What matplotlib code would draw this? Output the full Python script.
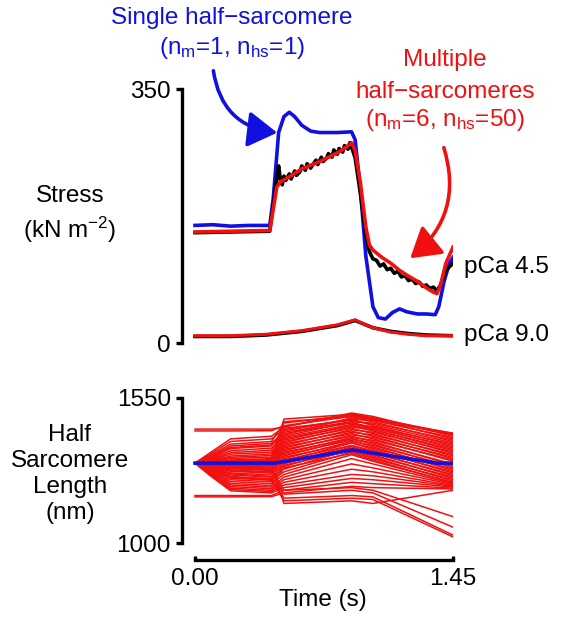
import matplotlib
matplotlib.use('Agg')
import matplotlib.pyplot as plt

plt.rcParams['font.family'] = ['Liberation Sans', 'DejaVu Sans']
plt.rcParams['mathtext.fontset'] = 'custom'
plt.rcParams['mathtext.rm'] = 'Liberation Sans'
plt.rcParams['mathtext.it'] = 'Liberation Sans:italic'

# Stress traces, pCa 4.5
t_blue = [0, 0.1, 0.2, 0.3, 0.42, 0.44, 0.47, 0.50, 0.53, 0.56, 0.60, 0.65, 0.70, 0.80, 0.88,
          0.90, 0.93, 0.96, 1.00, 1.03, 1.07, 1.11, 1.15, 1.19, 1.25, 1.30, 1.35, 1.37, 1.40, 1.43, 1.45]
s_blue = [162, 163, 161, 162, 162, 200, 290, 312, 318, 312, 300, 292, 290, 290, 291,
          280, 210, 120, 50, 35, 33, 42, 47, 43, 40, 40, 39, 50, 85, 110, 118]

t_red = [0, 0.2, 0.42, 0.44, 0.46, 0.48, 0.5, 0.55, 0.6, 0.65, 0.7, 0.75, 0.8, 0.85, 0.88,
         0.9, 0.93, 0.96, 0.98, 1.0, 1.05, 1.1, 1.15, 1.2, 1.25, 1.3, 1.34, 1.36, 1.38, 1.41, 1.45]
s_red = [153, 154, 155, 185, 215, 222, 225, 232, 240, 245, 250, 256, 262, 270, 276,
         265, 220, 160, 135, 128, 118, 110, 100, 92, 85, 76, 70, 68, 80, 110, 132]

t_black = [0, 0.2, 0.42, 0.44, 0.46, 0.47, 0.48, 0.49, 0.50,
           0.51, 0.53, 0.54, 0.56, 0.57, 0.59, 0.60, 0.62, 0.63, 0.65, 0.66, 0.68, 0.69,
           0.71, 0.72, 0.74, 0.75, 0.77, 0.78, 0.80, 0.81, 0.83, 0.84, 0.86, 0.87, 0.88,
           0.90, 0.93, 0.96, 0.98, 1.00,
           1.02, 1.04, 1.06, 1.08, 1.10, 1.12, 1.14, 1.16, 1.18, 1.20, 1.22, 1.24,
           1.26, 1.28, 1.30, 1.32, 1.34, 1.36, 1.38, 1.41, 1.45]
s_black = [152, 153, 154, 190, 228, 244, 225, 218, 230,
           224, 233, 226, 237, 231, 236, 244, 238, 247, 241, 245, 252, 246,
           256, 250, 255, 261, 256, 266, 260, 268, 263, 272, 267, 276, 270,
           255, 205, 150, 126, 116,
           114, 106, 109, 101, 103, 96, 99, 91, 93, 86, 88, 82,
           84, 78, 80, 75, 77, 72, 80, 100, 110]

# Stress traces, pCa 9.0
t_relax = [0, 0.2, 0.4, 0.6, 0.8, 0.9, 0.95, 1.0, 1.1, 1.2, 1.3, 1.45]
s_relax_red = [10, 10, 12, 17, 25, 32, 26, 21, 15, 12, 10, 10]
s_relax_black = [9, 9, 11, 16, 24, 31, 26, 21, 16, 13, 11, 10]

# Half-sarcomere lengths
t_hsl_blue = [0, 0.45, 0.885, 1.36, 1.45]
hsl_blue = [1303, 1303, 1353, 1303, 1303]

t_hsl = [0, 0.08, 0.2, 0.43, 0.5, 0.88, 1.0, 1.45]
hsl_red = [
    [1432, 1432, 1432, 1432, 1440, 1490, 1475, 1415],
    [1425, 1425, 1425, 1426, 1445, 1480, 1470, 1410],
    [1303, 1340, 1395, 1405, 1440, 1493, 1480, 1405],
    [1303, 1335, 1385, 1395, 1430, 1470, 1465, 1400],
    [1303, 1330, 1375, 1385, 1455, 1485, 1470, 1395],
    [1303, 1326, 1368, 1378, 1420, 1460, 1455, 1390],
    [1303, 1323, 1362, 1372, 1410, 1475, 1460, 1385],
    [1303, 1320, 1358, 1368, 1435, 1465, 1450, 1380],
    [1303, 1317, 1350, 1360, 1400, 1450, 1440, 1375],
    [1303, 1314, 1343, 1352, 1425, 1470, 1445, 1370],
    [1303, 1312, 1337, 1345, 1390, 1445, 1435, 1365],
    [1303, 1310, 1330, 1338, 1415, 1455, 1440, 1360],
    [1303, 1308, 1325, 1332, 1380, 1440, 1430, 1355],
    [1303, 1307, 1320, 1326, 1405, 1460, 1430, 1350],
    [1303, 1306, 1315, 1320, 1370, 1430, 1420, 1345],
    [1303, 1305, 1311, 1315, 1395, 1445, 1425, 1340],
    [1303, 1304, 1308, 1312, 1360, 1420, 1410, 1335],
    [1303, 1303, 1306, 1308, 1385, 1435, 1415, 1330],
    [1303, 1303, 1305, 1306, 1350, 1410, 1400, 1325],
    [1303, 1303, 1304, 1304, 1375, 1425, 1405, 1320],
    [1303, 1303, 1303, 1302, 1340, 1400, 1390, 1315],
    [1303, 1303, 1301, 1300, 1365, 1415, 1395, 1310],
    [1303, 1302, 1300, 1298, 1330, 1395, 1380, 1300],
    [1303, 1302, 1298, 1296, 1355, 1405, 1385, 1295],
    [1303, 1301, 1295, 1292, 1320, 1385, 1370, 1290],
    [1303, 1300, 1292, 1288, 1345, 1395, 1375, 1285],
    [1303, 1299, 1289, 1284, 1310, 1380, 1360, 1280],
    [1303, 1298, 1286, 1280, 1335, 1390, 1365, 1275],
    [1303, 1296, 1282, 1275, 1300, 1370, 1350, 1270],
    [1303, 1294, 1277, 1270, 1325, 1380, 1355, 1265],
    [1303, 1292, 1272, 1265, 1290, 1365, 1340, 1260],
    [1303, 1290, 1266, 1258, 1315, 1370, 1345, 1255],
    [1303, 1288, 1258, 1250, 1280, 1355, 1330, 1250],
    [1303, 1286, 1252, 1244, 1305, 1360, 1335, 1245],
    [1303, 1284, 1246, 1238, 1270, 1345, 1320, 1240],
    [1303, 1282, 1240, 1232, 1295, 1350, 1325, 1235],
    [1303, 1279, 1233, 1225, 1260, 1335, 1310, 1230],
    [1303, 1276, 1226, 1218, 1285, 1340, 1315, 1228],
    [1303, 1273, 1220, 1212, 1250, 1320, 1300, 1225],
    [1303, 1270, 1214, 1206, 1240, 1300, 1285, 1222],
    [1303, 1266, 1208, 1200, 1230, 1280, 1270, 1218],
    [1303, 1262, 1203, 1195, 1220, 1260, 1255, 1215],
    [1303, 1258, 1198, 1190, 1210, 1245, 1240, 1212],
    [1180, 1180, 1180, 1180, 1200, 1230, 1225, 1208],
    [1175, 1175, 1175, 1176, 1190, 1215, 1210, 1205],
    [1303, 1298, 1285, 1278, 1200, 1210, 1200, 1100],
    [1303, 1295, 1276, 1268, 1185, 1200, 1190, 1060],
    [1303, 1290, 1262, 1252, 1170, 1180, 1175, 1030],
    [1303, 1285, 1250, 1240, 1160, 1170, 1165, 1023],
    [1303, 1302, 1297, 1294, 1150, 1160, 1150, 1200],
    [1303, 1303, 1300, 1298, 1460, 1480, 1465, 1417],
    [1303, 1304, 1312, 1316, 1470, 1488, 1470, 1412],
]

BLUE = '#1010e0'
RED = '#f01010'
FS = 17.5

fig = plt.figure(figsize=(5.64, 6.22), dpi=100)
W, H = 564.0, 622.0

# top panel: spine x=182, data 0..1.45 at x=195..453, y 0..350 at 343..89
x0 = -13 / 258 * 1.45
ax1 = fig.add_axes([182 / W, 1 - 343 / H, (453 - 182) / W, (343 - 89) / H])
ax1.plot(t_blue, s_blue, color=BLUE, lw=2.6)
ax1.plot(t_black, s_black, color='black', lw=2.6)
ax1.plot(t_red, s_red, color=RED, lw=2.6)
ax1.plot(t_relax, s_relax_black, color='black', lw=2.6)
ax1.plot(t_relax, s_relax_red, color=RED, lw=2.2)
ax1.set_xlim(x0, 1.45)
ax1.set_ylim(0, 350)
ax1.set_yticks([0, 350])
ax1.set_yticklabels(['0', '350'])
ax1.set_xticks([])
for s in ['top', 'right', 'bottom']:
    ax1.spines[s].set_visible(False)
ax1.spines['left'].set_linewidth(2.4)
ax1.tick_params(axis='y', length=4, width=2.4, labelsize=FS, pad=4)
ax1.text(1.042, 0.30, 'pCa 4.5', transform=ax1.transAxes, fontsize=FS, va='center', ha='left')
ax1.text(1.042, 0.03, 'pCa 9.0', transform=ax1.transAxes, fontsize=FS, va='center', ha='left')

# bottom panel: y 1000..1550 at 543..398
ax2 = fig.add_axes([182 / W, 1 - 543 / H, (453 - 182) / W, (543 - 398) / H])
for row in hsl_red:
    ax2.plot(t_hsl, row, color=RED, lw=1.1)
ax2.plot(t_hsl_blue, hsl_blue, color=BLUE, lw=2.6)
ax2.set_xlim(x0, 1.45)
ax2.set_ylim(1000, 1550)
ax2.set_yticks([1000, 1550])
ax2.set_xticks([0, 1.45])
ax2.set_xticklabels(['0.00', '1.45'])
for s in ['top', 'right']:
    ax2.spines[s].set_visible(False)
ax2.spines['left'].set_linewidth(2.4)
ax2.spines['bottom'].set_linewidth(2.4)
ax2.spines['bottom'].set_position(('outward', 12))
ax2.spines['bottom'].set_bounds(0, 1.45)
ax2.tick_params(axis='y', length=4, width=2.4, labelsize=FS, pad=4)
ax2.tick_params(axis='x', direction='in', length=3, width=2.4, labelsize=FS, pad=6)

fig.text(323 / W, 1 - 600 / H, 'Time (s)', fontsize=FS, ha='center', va='center')
fig.text(70 / W, 1 - 215 / H, 'Stress\n(kN m$^{-2}$)', fontsize=FS, ha='center', va='center',
         linespacing=1.3)
fig.text(70 / W, 1 - 474 / H, 'Half\nSarcomere\nLength\n(nm)', fontsize=FS, ha='center',
         va='center', linespacing=1.25)

# annotations
fig.text(232 / W, 1 - 18 / H, 'Single half\u2212sarcomere', color=BLUE, fontsize=FS,
         ha='center', va='center')
fig.text(232 / W, 1 - 48 / H, '(n$_\\mathrm{m}$=1, n$_\\mathrm{hs}$=1)', color=BLUE, fontsize=FS,
         ha='center', va='center')
fig.text(445 / W, 1 - 60 / H, 'Multiple', color=RED, fontsize=FS, ha='center', va='center')
fig.text(445 / W, 1 - 92 / H, 'half\u2212sarcomeres', color=RED, fontsize=FS, ha='center', va='center')
fig.text(445 / W, 1 - 120 / H, '(n$_\\mathrm{m}$=6, n$_\\mathrm{hs}$=50)', color=RED, fontsize=FS,
         ha='center', va='center')

fig.patches.append(matplotlib.patches.FancyArrowPatch(
    (213 / W, 1 - 68 / H), (280 / W, 1 - 133 / H), transform=fig.transFigure,
    connectionstyle='arc3,rad=0.4', arrowstyle='-|>,head_length=0.9,head_width=0.55',
    mutation_scale=20, color=BLUE, lw=2.6))
fig.patches.append(matplotlib.patches.FancyArrowPatch(
    (443 / W, 1 - 145 / H), (408 / W, 1 - 260 / H), transform=fig.transFigure,
    connectionstyle='arc3,rad=-0.35', arrowstyle='-|>,head_length=0.9,head_width=0.55',
    mutation_scale=20, color=RED, lw=2.6))

fig.savefig('out.png', dpi=100)
